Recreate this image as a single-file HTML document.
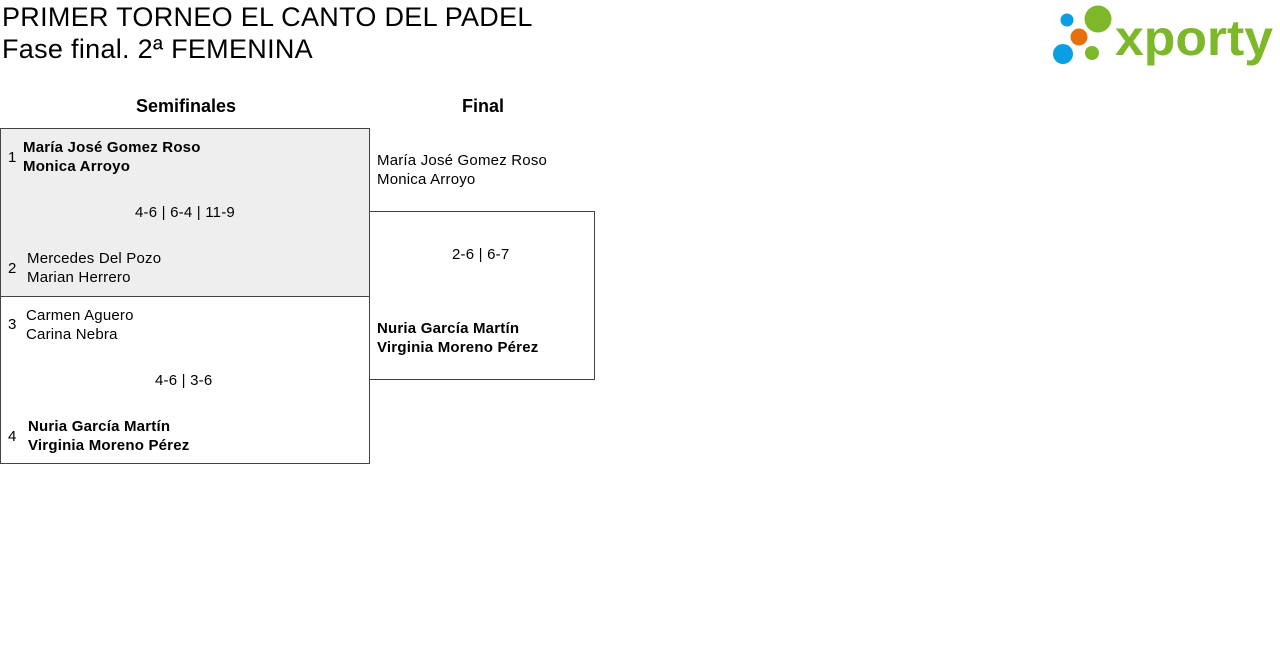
<!DOCTYPE html>
<html><head><meta charset="utf-8"><style>
body{margin:0;width:1280px;height:661px;background:#fff;font-family:"Liberation Sans",sans-serif;color:#000;position:relative;overflow:hidden}
.a{position:absolute;white-space:nowrap}
.t{font-size:27px;left:2px;letter-spacing:0.3px}
.s{font-size:15px;line-height:19px;letter-spacing:0.2px}
.b{font-weight:bold}
.box{position:absolute;border:1px solid #444;box-sizing:border-box}
.h{font-size:18px;font-weight:bold;}
</style></head><body>
<div class="a t" style="top:2px">PRIMER TORNEO EL CANTO DEL PADEL</div>
<div class="a t" style="top:34px">Fase final. 2ª FEMENINA</div>
<svg class="a" style="left:1040px;top:0" width="240" height="75">
<circle cx="27" cy="20" r="6.5" fill="#0a9ee2"/>
<circle cx="23" cy="54" r="10" fill="#0a9ee2"/>
<circle cx="39" cy="37" r="8.5" fill="#e5700e"/>
<circle cx="58" cy="19" r="13.5" fill="#7cb82a"/>
<circle cx="52" cy="53" r="7" fill="#7cb82a"/>
<text x="75" y="55" font-family="Liberation Sans,sans-serif" font-weight="bold" font-size="50" fill="#7cb82a" textLength="158" lengthAdjust="spacingAndGlyphs">xporty</text>
</svg>
<div class="a h" style="left:136px;top:96px">Semifinales</div>
<div class="a h" style="left:462px;top:96px">Final</div>
<div class="box" style="left:0;top:128px;width:370px;height:169px;background:#eee"></div>
<div class="box" style="left:0;top:296px;width:370px;height:168px"></div>
<div class="box" style="left:369px;top:211px;width:226px;height:169px"></div>
<div class="a s" style="left:8px;top:148px">1</div>
<div class="a s b" style="left:23px;top:138px">María José Gomez Roso<br>Monica Arroyo</div>
<div class="a s" style="left:135px;top:203px">4-6 | 6-4 | 11-9</div>
<div class="a s" style="left:8px;top:259px">2</div>
<div class="a s" style="left:27px;top:249px">Mercedes Del Pozo<br>Marian Herrero</div>
<div class="a s" style="left:8px;top:315px">3</div>
<div class="a s" style="left:26px;top:306px">Carmen Aguero<br>Carina Nebra</div>
<div class="a s" style="left:155px;top:371px">4-6 | 3-6</div>
<div class="a s" style="left:8px;top:427px">4</div>
<div class="a s b" style="left:28px;top:417px">Nuria García Martín<br>Virginia Moreno Pérez</div>
<div class="a s" style="left:377px;top:151px">María José Gomez Roso<br>Monica Arroyo</div>
<div class="a s" style="left:452px;top:245px">2-6 | 6-7</div>
<div class="a s b" style="left:377px;top:319px">Nuria García Martín<br>Virginia Moreno Pérez</div>
</body></html>
